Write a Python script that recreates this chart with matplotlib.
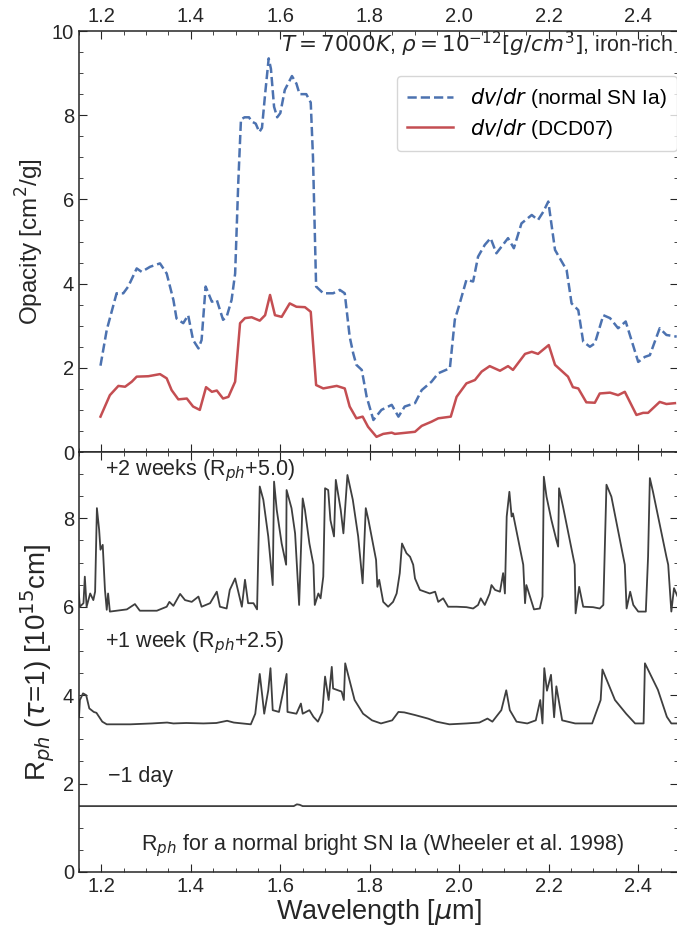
import numpy as np
import matplotlib.pyplot as plt
from matplotlib.ticker import MultipleLocator

plt.rcParams['font.family'] = ['Liberation Sans', 'DejaVu Sans']
plt.rcParams['mathtext.fontset'] = 'dejavusans'

# opacity, normal SN Ia velocity gradient
wl_normal = [1.198, 1.212, 1.234, 1.249, 1.260, 1.279, 1.290, 1.309, 1.331, 1.346,
             1.361, 1.368, 1.383, 1.394, 1.405, 1.417, 1.424, 1.433, 1.447, 1.458,
             1.472, 1.480, 1.491, 1.499, 1.506, 1.512, 1.520, 1.530, 1.536, 1.545,
             1.553, 1.559, 1.566, 1.574, 1.579, 1.586, 1.593, 1.600, 1.610, 1.626,
             1.636, 1.643, 1.658, 1.668, 1.673, 1.680, 1.696, 1.718, 1.733, 1.744,
             1.755, 1.763, 1.770, 1.782, 1.793, 1.808, 1.826, 1.849, 1.864, 1.878,
             1.901, 1.916, 1.938, 1.953, 1.979, 1.990, 2.001, 2.016, 2.031, 2.042,
             2.057, 2.070, 2.083, 2.109, 2.122, 2.139, 2.162, 2.176, 2.188, 2.199,
             2.214, 2.240, 2.251, 2.266, 2.277, 2.292, 2.303, 2.322, 2.337, 2.355,
             2.372, 2.400, 2.415, 2.426, 2.448, 2.463, 2.486]
op_normal = [2.05, 2.9, 3.77, 3.77, 3.93, 4.36, 4.28, 4.40, 4.48, 4.24,
             3.61, 3.17, 3.06, 3.25, 2.66, 2.46, 2.66, 3.93, 3.57, 3.61,
             3.14, 3.21, 3.61, 4.24, 6.4, 7.9, 7.95, 7.95, 7.85, 7.8,
             7.6, 7.7, 8.5, 9.35, 9.1, 8.2, 7.95, 8.05, 8.6, 8.93,
             8.75, 8.5, 8.5, 8.3, 7.0, 3.93, 3.77, 3.77, 3.85, 3.77,
             2.74, 2.34, 2.07, 1.95, 1.31, 0.76, 1.0, 1.12, 0.84, 1.08,
             1.16, 1.47, 1.67, 1.87, 1.99, 3.14, 3.53, 4.09, 4.05, 4.64,
             4.92, 5.08, 4.72, 5.08, 4.84, 5.43, 5.63, 5.51, 5.71, 5.95,
             4.80, 4.32, 3.53, 3.37, 2.62, 2.50, 2.58, 3.25, 3.18, 2.94,
             3.10, 2.14, 2.26, 2.30, 2.94, 2.78, 2.74]

# opacity, DCD07 velocity gradient
wl_dcd = [1.198, 1.219, 1.238, 1.253, 1.268, 1.279, 1.305, 1.331, 1.346, 1.357,
          1.372, 1.391, 1.405, 1.420, 1.434, 1.447, 1.458, 1.472, 1.484, 1.499,
          1.510, 1.521, 1.536, 1.554, 1.566, 1.577, 1.588, 1.603, 1.621, 1.636,
          1.655, 1.668, 1.680, 1.696, 1.726, 1.744, 1.755, 1.770, 1.784, 1.796,
          1.815, 1.830, 1.849, 1.856, 1.901, 1.916, 1.938, 1.953, 1.981, 1.994,
          2.016, 2.035, 2.050, 2.068, 2.091, 2.109, 2.120, 2.147, 2.162, 2.176,
          2.200, 2.214, 2.243, 2.254, 2.266, 2.284, 2.303, 2.314, 2.337, 2.355,
          2.370, 2.396, 2.411, 2.422, 2.448, 2.463, 2.482]
op_dcd = [0.84, 1.35, 1.57, 1.55, 1.67, 1.79, 1.80, 1.85, 1.75, 1.47,
          1.25, 1.27, 1.08, 1.00, 1.54, 1.43, 1.46, 1.27, 1.31, 1.67,
          3.06, 3.18, 3.20, 3.12, 3.25, 3.73, 3.25, 3.21, 3.53, 3.45,
          3.44, 3.33, 1.59, 1.51, 1.57, 1.51, 1.08, 0.80, 0.84, 0.60,
          0.36, 0.43, 0.46, 0.43, 0.48, 0.62, 0.72, 0.80, 0.84, 1.31,
          1.63, 1.71, 1.91, 2.04, 1.93, 2.04, 1.95, 2.33, 2.38, 2.33,
          2.54, 2.07, 1.79, 1.54, 1.51, 1.18, 1.17, 1.39, 1.41, 1.35,
          1.43, 0.88, 0.93, 0.93, 1.19, 1.14, 1.16]

# photosphere radius, +2 weeks (offset +5.0)
wl_2w = [1.148, 1.152, 1.160, 1.163, 1.167, 1.175, 1.182, 1.186, 1.190, 1.195,
         1.198, 1.203, 1.208, 1.212, 1.215, 1.219, 1.257, 1.275, 1.286, 1.324,
         1.346, 1.352, 1.361, 1.376, 1.387, 1.402, 1.417, 1.424, 1.443, 1.458,
         1.465, 1.480, 1.487, 1.499, 1.506, 1.514, 1.521, 1.528, 1.540, 1.548,
         1.554, 1.562, 1.573, 1.583, 1.586, 1.592, 1.603, 1.613, 1.614, 1.625,
         1.633, 1.642, 1.650, 1.655, 1.665, 1.674, 1.677, 1.685, 1.690, 1.696,
         1.700, 1.707, 1.712, 1.720, 1.724, 1.735, 1.741, 1.750, 1.762, 1.774,
         1.784, 1.791, 1.797, 1.804, 1.814, 1.817, 1.821, 1.830, 1.841, 1.852,
         1.860, 1.867, 1.872, 1.882, 1.890, 1.897, 1.901, 1.912, 1.923, 1.934,
         1.946, 1.953, 1.964, 1.975, 1.994, 2.016, 2.031, 2.042, 2.048, 2.057,
         2.068, 2.072, 2.080, 2.091, 2.098, 2.102, 2.106, 2.112, 2.117, 2.120,
         2.132, 2.143, 2.147, 2.150, 2.158, 2.167, 2.180, 2.186, 2.189, 2.195,
         2.206, 2.217, 2.221, 2.223, 2.232, 2.247, 2.258, 2.260, 2.268, 2.277,
         2.299, 2.314, 2.322, 2.329, 2.340, 2.370, 2.374, 2.382, 2.389, 2.400,
         2.417, 2.422, 2.426, 2.433, 2.463, 2.467, 2.474, 2.480, 2.488]
rph_2w = [6.49, 6.0, 6.08, 6.68, 6.0, 6.30, 6.15, 6.34, 8.23, 7.74,
          7.29, 7.40, 6.38, 5.93, 6.30, 5.89, 5.94, 6.06, 5.91, 5.91,
          6.00, 6.11, 6.02, 6.29, 6.15, 6.11, 6.23, 6.00, 6.08, 6.34,
          6.00, 5.96, 6.38, 6.64, 6.34, 6.00, 6.61, 6.08, 6.08, 5.94,
          8.72, 8.42, 7.59, 6.49, 8.83, 8.19, 7.43, 6.95, 8.64, 8.23,
          7.66, 6.04, 8.45, 8.19, 7.43, 6.95, 6.04, 6.30, 6.19, 6.68,
          8.68, 8.64, 7.96, 7.59, 8.87, 8.19, 7.66, 8.98, 8.42, 7.59,
          6.53, 8.23, 7.96, 7.59, 7.06, 6.45, 6.61, 6.11, 6.00, 6.11,
          6.30, 6.76, 7.43, 7.21, 7.13, 6.95, 6.64, 6.38, 6.34, 6.30,
          6.34, 6.11, 6.19, 6.00, 6.00, 5.99, 5.96, 6.04, 6.19, 6.04,
          6.30, 6.49, 6.38, 6.34, 6.76, 6.30, 8.04, 8.60, 8.04, 8.11,
          7.51, 6.95, 6.08, 6.49, 6.23, 5.94, 5.96, 6.23, 8.94, 8.49,
          7.96, 7.51, 7.36, 8.68, 8.26, 7.51, 6.95, 5.85, 6.45, 6.00,
          5.99, 5.96, 6.04, 8.76, 8.49, 6.95, 5.96, 6.34, 6.04, 5.89,
          5.89, 7.13, 8.91, 8.60, 7.13, 6.95, 5.89, 6.42, 6.23]

# photosphere radius, +1 week (offset +2.5)
wl_1w = [1.150, 1.152, 1.159, 1.166, 1.173, 1.183, 1.189, 1.202, 1.212, 1.265,
         1.313, 1.347, 1.361, 1.390, 1.428, 1.457, 1.481, 1.496, 1.534, 1.544,
         1.554, 1.560, 1.564, 1.573, 1.578, 1.583, 1.597, 1.607, 1.614, 1.616,
         1.636, 1.646, 1.650, 1.665, 1.674, 1.684, 1.694, 1.700, 1.708, 1.715,
         1.718, 1.737, 1.742, 1.745, 1.766, 1.785, 1.805, 1.825, 1.850, 1.864,
         1.877, 1.901, 1.930, 1.949, 1.978, 2.016, 2.045, 2.063, 2.074, 2.094,
         2.105, 2.113, 2.128, 2.152, 2.171, 2.181, 2.186, 2.190, 2.196, 2.205,
         2.212, 2.217, 2.230, 2.259, 2.297, 2.316, 2.320, 2.348, 2.373, 2.393,
         2.412, 2.415, 2.444, 2.464, 2.474, 2.488]
rph_1w = [3.50, 3.89, 4.04, 4.00, 3.70, 3.62, 3.60, 3.40, 3.34, 3.34,
          3.36, 3.38, 3.36, 3.37, 3.36, 3.37, 3.42, 3.38, 3.34, 3.58,
          4.48, 3.95, 3.58, 4.11, 4.61, 3.66, 3.62, 4.11, 4.48, 3.62,
          3.58, 3.81, 3.58, 3.66, 3.51, 3.40, 3.62, 4.42, 3.89, 4.64,
          4.15, 4.08, 3.89, 4.72, 3.89, 3.58, 3.43, 3.36, 3.43, 3.62,
          3.61, 3.55, 3.47, 3.40, 3.34, 3.36, 3.38, 3.47, 3.40, 3.66,
          4.11, 3.66, 3.40, 3.36, 3.43, 3.89, 3.36, 4.61, 4.10, 4.46,
          3.50, 4.20, 3.43, 3.36, 3.36, 3.89, 4.58, 3.89, 3.58, 3.36,
          3.36, 4.72, 4.12, 3.51, 3.36, 3.36]

# photosphere radius, -1 day
wl_1d = [1.15, 1.630, 1.637, 1.643, 1.650, 2.49]
rph_1d = [1.49, 1.49, 1.53, 1.52, 1.49, 1.49]

c_blue = '#4C72B0'
c_red = '#C44E52'
c_dark = '#3f3f3f'
c_text = '#262626'

fig = plt.figure(figsize=(6.77, 9.31), dpi=100)
ax1 = fig.add_axes([0.1167, 0.5145, 0.8855, 0.4522])
ax2 = fig.add_axes([0.1167, 0.0634, 0.8855, 0.4511])

# top panel: opacities
ax1.plot(wl_normal, op_normal, color=c_blue, lw=1.8, ls='--',
         label=r'$dv/dr$ (normal SN Ia)')
ax1.plot(wl_dcd, op_dcd, color=c_red, lw=1.8, label=r'$dv/dr$ (DCD07)')
ax1.set_ylim(0, 10)
ax1.set_ylabel(r'Opacity [cm$^2$/g]', fontsize=17.5, color=c_text)
ax1.text(0.99, 0.967, r'$T=7000K$, $\rho=10^{-12}[g/cm^3]$, iron-rich',
         transform=ax1.transAxes, ha='right', va='center', fontsize=15.5, color=c_text)
leg = ax1.legend(loc='upper right', bbox_to_anchor=(0.997, 0.893), borderaxespad=0,
                 fontsize=15, frameon=True, fancybox=True, handlelength=2.2,
                 borderpad=0.5, labelspacing=0.3)
leg.get_frame().set_edgecolor('#cccccc')
ax1.tick_params(labeltop=True, labelbottom=False)

# bottom panel: photosphere radius
ax2.plot(wl_2w, rph_2w, color=c_dark, lw=1.3)
ax2.plot(wl_1w, rph_1w, color=c_dark, lw=1.3)
ax2.plot(wl_1d, rph_1d, color=c_dark, lw=1.3)
ax2.set_ylim(0, 9.5)
ax2.set_ylabel(r'R$_{ph}$ ($\tau$=1) [10$^{15}$cm]', fontsize=20, color=c_text)
ax2.set_xlabel(r'Wavelength [$\mu$m]', fontsize=19.5, color=c_text, labelpad=1)
ax2.text(1.208, 9.09, r'+2 weeks (R$_{ph}$+5.0)', fontsize=15.5, va='center', color=c_text)
ax2.text(1.208, 5.18, r'+1 week (R$_{ph}$+2.5)', fontsize=15.5, va='center', color=c_text)
ax2.text(1.215, 2.15, '\u22121 day', fontsize=15.5, va='center', color=c_text)
ax2.text(1.829, 0.6, r'R$_{ph}$ for a normal bright SN Ia (Wheeler et al. 1998)',
         fontsize=15.5, ha='center', va='center', color=c_text)

for ax in (ax1, ax2):
    ax.set_xlim(1.15, 2.49)
    ax.xaxis.set_major_locator(MultipleLocator(0.2))
    ax.xaxis.set_minor_locator(MultipleLocator(0.05))
    ax.yaxis.set_major_locator(MultipleLocator(2))
    ax.yaxis.set_minor_locator(MultipleLocator(0.5))
    ax.tick_params(which='both', direction='in', top=True, right=True,
                   color=c_text, labelcolor=c_text, labelsize=14.5)
    ax.tick_params(which='major', length=6)
    ax.tick_params(which='minor', length=3)
    ax.xaxis.set_major_formatter(plt.FormatStrFormatter('%.1f'))
    for s in ax.spines.values():
        s.set_color(c_text)
        s.set_linewidth(1.1)

fig.savefig('out.png', dpi=100)
